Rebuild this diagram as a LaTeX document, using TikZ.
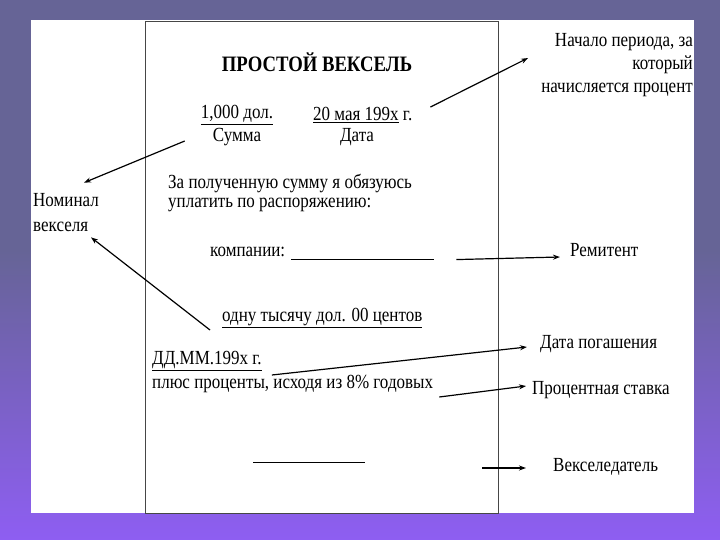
\documentclass[tikz,border=0pt]{standalone}
\usepackage{fontspec}
\setmainfont{Liberation Serif}[FakeStretch=0.85]
\usetikzlibrary{arrows.meta}
\definecolor{bgtop}{RGB}{102,100,150}
\definecolor{bgbot}{RGB}{142,94,242}
\definecolor{frame}{RGB}{70,70,70}

\begin{document}
\begin{tikzpicture}[x=1pt,y=-1pt,
  doc/.style={font=\fontsize{20}{23}\selectfont, inner sep=0pt},
  title/.style={font=\fontsize{22}{25}\selectfont\bfseries, inner sep=0pt},
  lbl/.style={font=\fontsize{20}{23}\selectfont, inner sep=0pt},
  arr/.style={-{Stealth[length=7pt,width=5pt]}, line width=1.2pt}]
  \useasboundingbox (0,0) rectangle (720,540);
  \fill[bgtop] (0,0) rectangle (720,250);
  \shade[top color=bgtop, bottom color=bgbot] (0,250) rectangle (720,540);
  \fill[white] (31,20) rectangle (694,513);
  \draw[frame] (145,21) rectangle (498,513);

  \node[title] (title) at (317,62) {ПРОСТОЙ ВЕКСЕЛЬ};
  \node[doc] (summa) at (237,115) {\underline{1,000 дол.}};
  \node[doc] (summaLbl) at (237,137) {Сумма};
  \node[doc, anchor=west] (data) at (313,115) {\underline{20 мая 199х} г.};
  \node[doc] (dataLbl) at (357,137) {Дата};
  \node[doc, anchor=west] (text1) at (168,184) {За полученную сумму я обязуюсь};
  \node[doc, anchor=west] (text2) at (168,205) {уплатить по распоряжению:};
  \node[doc, anchor=west] (kompanii) at (210,252) {компании:};
  \draw ([shift={(6,3)}]kompanii.base east) -- ++(143,0) coordinate (kompEnd);
  \node[doc, anchor=west] (slovami) at (222,318) {\underline{одну тысячу дол. 00 центов}};
  \node[doc, anchor=west] (srok) at (152,361) {\underline{ДД.ММ.199х г.}};
  \node[doc, anchor=west] (procent) at (152,384) {плюс проценты, исходя из 8\% годовых};
  \coordinate (podpis) at (253,462);
  \draw (podpis) -- ++(112,0) coordinate (podpisEnd);

  \node[lbl, align=right, anchor=east] (nachalo) at (693,65) {Начало периода, за\\который\\начисляется процент};
  \node[lbl, align=left, anchor=west, font=\fontsize{20}{25}\selectfont] (nominal) at (33,213) {Номинал\\векселя};
  \node[lbl, anchor=west] (remitent) at (570,250) {Ремитент};
  \node[lbl, anchor=west] (pogashenie) at (540,344) {Дата погашения};
  \node[lbl, anchor=west] (stavka) at (532,390) {Процентная ставка};
  \node[lbl, anchor=west] (vekseledatel) at (553,467) {Векселедатель};

  \draw[arr] ([shift={(-28,4)}]summaLbl.west) -- ([shift={(18,-11)}]nominal.north);
  \draw[arr] ([shift={(-12,12)}]slovami.west) -- ([shift={(-8,5)}]nominal.south east);
  \draw[arr] ([shift={(18,-8)}]data.east) -- ([shift={(-13,-7)}]nachalo.west);
  \draw[arr] ([shift={(22,0)}]kompEnd) -- ([shift={(-10,7)}]remitent.west);
  \draw[arr] ([shift={(10,14)}]srok.east) -- ([shift={(-13,3)}]pogashenie.west);
  \draw[arr] ([shift={(6,13)}]procent.east) -- ([shift={(-6,-4)}]stavka.west);
  \draw[arr, line width=2pt] ([shift={(117,6)}]podpisEnd) -- ([shift={(-27,1)}]vekseledatel.west);
\end{tikzpicture}
\end{document}
